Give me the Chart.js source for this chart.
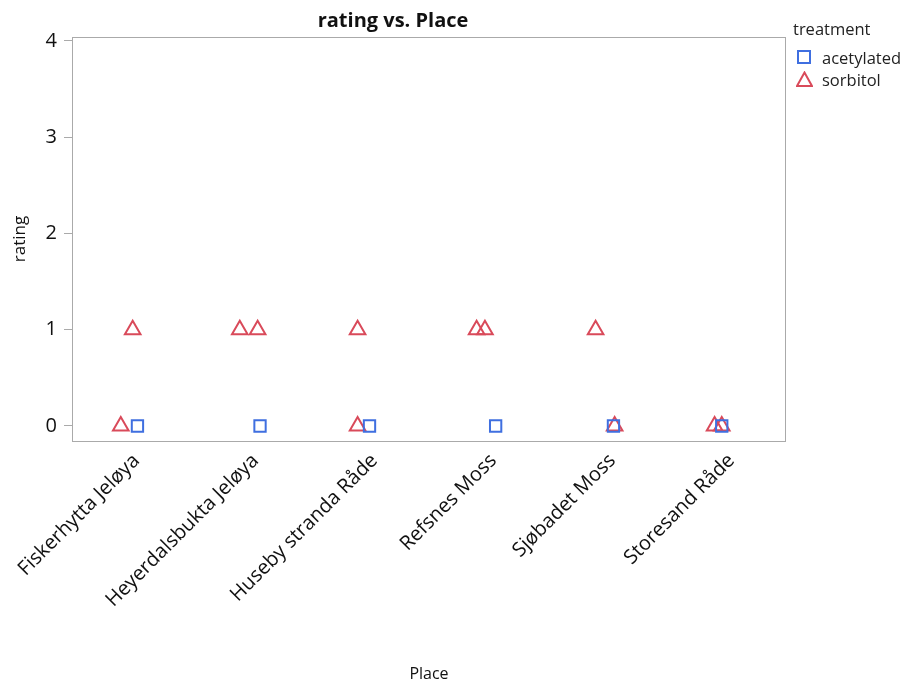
<!DOCTYPE html>
<html>
<head>
<meta charset="utf-8">
<script src="https://cdn.jsdelivr.net/npm/chart.js@4"></script>
<style>
  body { margin: 0; background: #fff; font-family: "Open Sans", sans-serif; }
  #wrap { position: relative; width: 909px; height: 684px; }
  #legend { position: absolute; left: 793px; top: 17px; font-size: 16.5px; color: #222; }
  #legend .row { display: flex; align-items: center; height: 22px; }
  #legend svg { margin-left: 3px; margin-right: 9px; }
</style>
</head>
<body>
<div id="wrap">
  <canvas id="chart" width="909" height="684"></canvas>
  <div id="legend">
    <div style="margin-bottom:6px">treatment</div>
    <div class="row"><svg width="17" height="17"><rect x="2" y="2" width="12" height="12" fill="none" stroke="#3f6fe0" stroke-width="2"/></svg>acetylated</div>
    <div class="row"><svg width="17" height="17"><polygon points="8.5,1.5 16,15 1,15" fill="none" stroke="#d94a5a" stroke-width="2"/></svg>sorbitol</div>
  </div>
</div>
<script>
const places = ["Fiskerhytta Jeløya", "Heyerdalsbukta Jeløya", "Huseby stranda Råde",
  "Refsnes Moss", "Sjøbadet Moss", "Storesand Råde"];
const ratingTicks = [0, 1, 2, 3, 4];

// jittered category positions (index + offset) and ratings
const acetylatedX = [0.05, 1.08, 2.0, 3.06, 4.05, 4.96];
const acetylatedY = [0, 0, 0, 0, 0, 0];
const sorbitolX = [0.01, -0.09, 0.91, 1.06, 1.9, 1.9, 2.9, 2.97, 3.9, 4.06, 4.9, 4.96];
const sorbitolY = [1, 0, 1, 1, 1, 0, 1, 1, 1, 0, 0, 0];

const toPoints = (xs, ys) => xs.map((x, i) => ({ x: x, y: ys[i] }));

const frame = {
  id: "frame",
  afterDraw(chart) {
    const { ctx, chartArea: a } = chart;
    ctx.save();
    ctx.strokeStyle = "#aaaaaa";
    ctx.lineWidth = 1;
    ctx.strokeRect(Math.round(a.left) + 0.5, Math.round(a.top) + 0.5,
      Math.round(a.right - a.left) - 1, Math.round(a.bottom - a.top));
    ctx.restore();
  }
};

const ctx = document.getElementById("chart").getContext("2d");
new Chart(ctx, {
  type: "scatter",
  data: {
    datasets: [
      {
        label: "acetylated",
        data: toPoints(acetylatedX, acetylatedY),
        pointStyle: "rect",
        pointRadius: 8,
        pointHoverRadius: 8,
        borderColor: "#3f6fe0",
        backgroundColor: "rgba(0,0,0,0)",
        pointBorderWidth: 2
      },
      {
        label: "sorbitol",
        data: toPoints(sorbitolX, sorbitolY),
        pointStyle: "triangle",
        pointRadius: 9,
        pointHoverRadius: 9,
        borderColor: "#d94a5a",
        backgroundColor: "rgba(0,0,0,0)",
        pointBorderWidth: 2
      }
    ]
  },
  options: {
    responsive: false,
    animation: false,
    layout: { padding: { left: 0, right: 123, top: 0, bottom: 0 } },
    plugins: {
      legend: { display: false },
      tooltip: { enabled: false },
      title: {
        display: true,
        text: "rating vs. Place",
        color: "#111",
        font: { family: "Open Sans", size: 20, weight: "bold", lineHeight: 1.2 },
        padding: { top: 9, bottom: 4 }
      }
    },
    scales: {
      x: {
        type: "linear",
        min: -0.5,
        max: 5.5,
        afterBuildTicks: (axis) => { axis.ticks = places.map((p, i) => ({ value: i })); },
        afterFit: (axis) => { axis.height = 243; },
        grid: { display: false, drawTicks: false },
        border: { display: false },
        ticks: {
          autoSkip: false,
          minRotation: 45,
          maxRotation: 45,
          padding: 8,
          labelOffset: 5,
          color: "#111",
          font: { family: "Open Sans", size: 20 },
          callback: (v) => places[v]
        },
        title: {
          display: true,
          text: "Place",
          color: "#111",
          font: { family: "Open Sans", size: 16 },
          padding: { top: 4, bottom: 0 }
        }
      },
      y: {
        min: -0.156,
        max: 4.04,
        afterBuildTicks: (axis) => { axis.ticks = ratingTicks.map((v) => ({ value: v })); },
        afterFit: (axis) => { axis.width = 72; },
        grid: { drawOnChartArea: false, drawTicks: true, tickLength: 8, color: "#aaaaaa" },
        border: { display: false },
        ticks: {
          padding: 7,
          color: "#111",
          font: { family: "Open Sans", size: 20 }
        },
        title: {
          display: true,
          text: "rating",
          color: "#111",
          font: { family: "Open Sans", size: 17 },
          padding: { top: 10, bottom: 0 }
        }
      }
    }
  },
  plugins: [frame]
});
</script>
</body>
</html>
